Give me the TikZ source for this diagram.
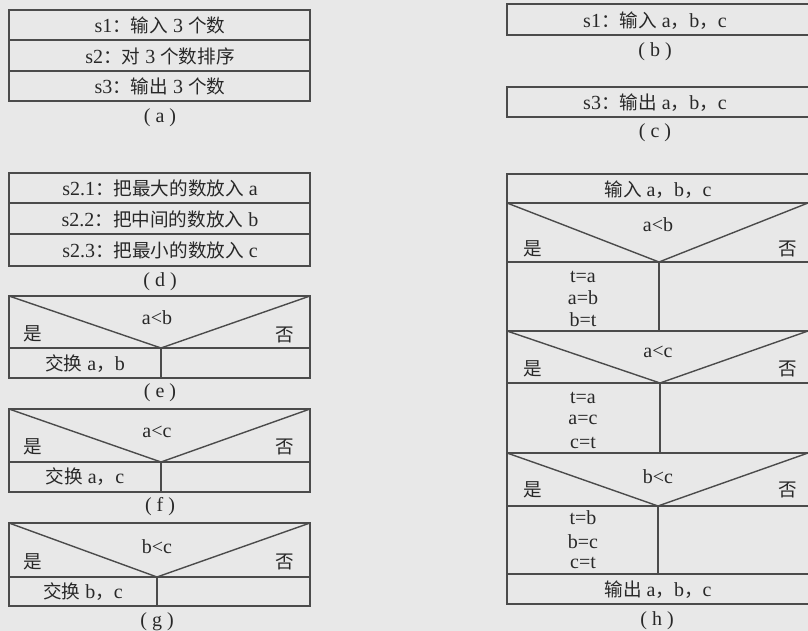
\documentclass[tikz,border=0pt]{standalone}
\usepackage{fontspec}
\setmainfont{Liberation Serif}
\newfontfamily\cjk{Noto Sans CJK SC}[Scale=0.93]
\newcommand{\zh}[1]{{\cjk #1}}
\definecolor{paper}{RGB}{232,232,232}
\definecolor{ink}{RGB}{40,40,40}
\definecolor{rule}{RGB}{75,75,75}
\tikzset{
  frame/.style={draw=rule, line width=1.4pt},
  lbl/.style={text=ink, inner sep=0pt, font=\fontsize{20}{20}\selectfont, anchor=center},
}
\begin{document}
\begin{tikzpicture}[x=1pt,y=-1pt]
\fill[paper] (0,0) rectangle (808,631);
\useasboundingbox (0,0) rectangle (808,631);
\clip (0,0) rectangle (808,631);

% ---------- (a)
\draw[frame] (9,10) rectangle (310,101);
\draw[frame] (9,40) -- (310,40) (9,71) -- (310,71);
\node[lbl] (a1) at (160,25) {s1\zh{：输入} 3 \zh{个数}};
\node[lbl] (a2) at (160,56) {s2\zh{：对} 3 \zh{个数排序}};
\node[lbl] (a3) at (160,86) {s3\zh{：输出} 3 \zh{个数}};
\node[lbl] (la) at (160,118) {( a )};

% ---------- (d)
\draw[frame] (9,173) rectangle (310,266);
\draw[frame] (9,203) -- (310,203) (9,234) -- (310,234);
\node[lbl] (d1) at (160,188) {s2.1\zh{：把最大的数放入} a};
\node[lbl] (d2) at (160,219) {s2.2\zh{：把中间的数放入} b};
\node[lbl] (d3) at (160,250) {s2.3\zh{：把最小的数放入} c};
\node[lbl] (ld) at (160,282) {( d )};

% ---------- (e)
\draw[frame] (9,296) rectangle (310,378);
\draw[frame] (9,348) -- (310,348);
\draw[frame] (9,296) -- (161,348) -- (310,296);
\draw[frame] (161,348) -- (161,378);
\node[lbl] (e0) at (157,318) {a<b};
\node[lbl] (e1) at (33,334) {\zh{是}};
\node[lbl] (e2) at (285,335) {\zh{否}};
\node[lbl] (e3) at (85,364) {\zh{交换} a\zh{，}b};
\node[lbl] (le) at (160,393) {( e )};

% ---------- (f)
\draw[frame] (9,409) rectangle (310,492);
\draw[frame] (9,462) -- (310,462);
\draw[frame] (9,409) -- (161,462) -- (310,409);
\draw[frame] (161,462) -- (161,492);
\node[lbl] (f0) at (157,432) {a<c};
\node[lbl] (f1) at (33,447) {\zh{是}};
\node[lbl] (f2) at (285,447) {\zh{否}};
\node[lbl] (f3) at (85,477) {\zh{交换} a\zh{，}c};
\node[lbl] (lf) at (160,507) {( f )};

% ---------- (g)
\draw[frame] (9,523) rectangle (310,606);
\draw[frame] (9,577) -- (310,577);
\draw[frame] (9,523) -- (157,577) -- (310,523);
\draw[frame] (157,577) -- (157,606);
\node[lbl] (g0) at (157,547) {b<c};
\node[lbl] (g1) at (33,562) {\zh{是}};
\node[lbl] (g2) at (285,562) {\zh{否}};
\node[lbl] (g3) at (83,592) {\zh{交换} b\zh{，}c};
\node[lbl] (lg) at (157,622) {( g )};

% ---------- (b)
\draw[frame] (507,4) rectangle (812,35);
\node[lbl] (b1) at (655,21) {s1\zh{：输入} a\zh{，}b\zh{，}c};
\node[lbl] (lb) at (655,52) {( b )};

% ---------- (c)
\draw[frame] (507,87) rectangle (812,117);
\node[lbl] (c1) at (655,103) {s3\zh{：输出} a\zh{，}b\zh{，}c};
\node[lbl] (lc) at (655,133) {( c )};

% ---------- (h)
\draw[frame] (507,174) rectangle (812,604);
\draw[frame] (507,203) -- (812,203)
             (507,262) -- (812,262)
             (507,331) -- (812,331)
             (507,383) -- (812,383)
             (507,453) -- (812,453)
             (507,506) -- (812,506)
             (507,574) -- (812,574);
\draw[frame] (507,203) -- (659,262) -- (808,203);
\draw[frame] (659,262) -- (659,331);
\draw[frame] (507,331) -- (660,383) -- (808,331);
\draw[frame] (660,383) -- (660,453);
\draw[frame] (507,453) -- (658,506) -- (808,453);
\draw[frame] (658,506) -- (658,574);
\node[lbl] (h0) at (658,190) {\zh{输入} a\zh{，}b\zh{，}c};
\node[lbl] (h1) at (658,225) {a<b};
\node[lbl] (h2) at (533,249) {\zh{是}};
\node[lbl] (h3) at (788,249) {\zh{否}};
\node[lbl] (h4) at (583,277) {t=a};
\node[lbl] (h5) at (583,298) {a=b};
\node[lbl] (h6) at (583,320) {b=t};
\node[lbl] (h7) at (658,352) {a<c};
\node[lbl] (h8) at (533,369) {\zh{是}};
\node[lbl] (h9) at (788,369) {\zh{否}};
\node[lbl] (h10) at (583,398) {t=a};
\node[lbl] (h11) at (583,420) {a=c};
\node[lbl] (h12) at (583,443) {c=t};
\node[lbl] (h13) at (658,477) {b<c};
\node[lbl] (h14) at (533,490) {\zh{是}};
\node[lbl] (h15) at (788,490) {\zh{否}};
\node[lbl] (h16) at (583,518) {t=b};
\node[lbl] (h17) at (583,542) {b=c};
\node[lbl] (h18) at (583,563) {c=t};
\node[lbl] (h19) at (658,590) {\zh{输出} a\zh{，}b\zh{，}c};
\node[lbl] (lh) at (657,621) {( h )};
\end{tikzpicture}
\end{document}
